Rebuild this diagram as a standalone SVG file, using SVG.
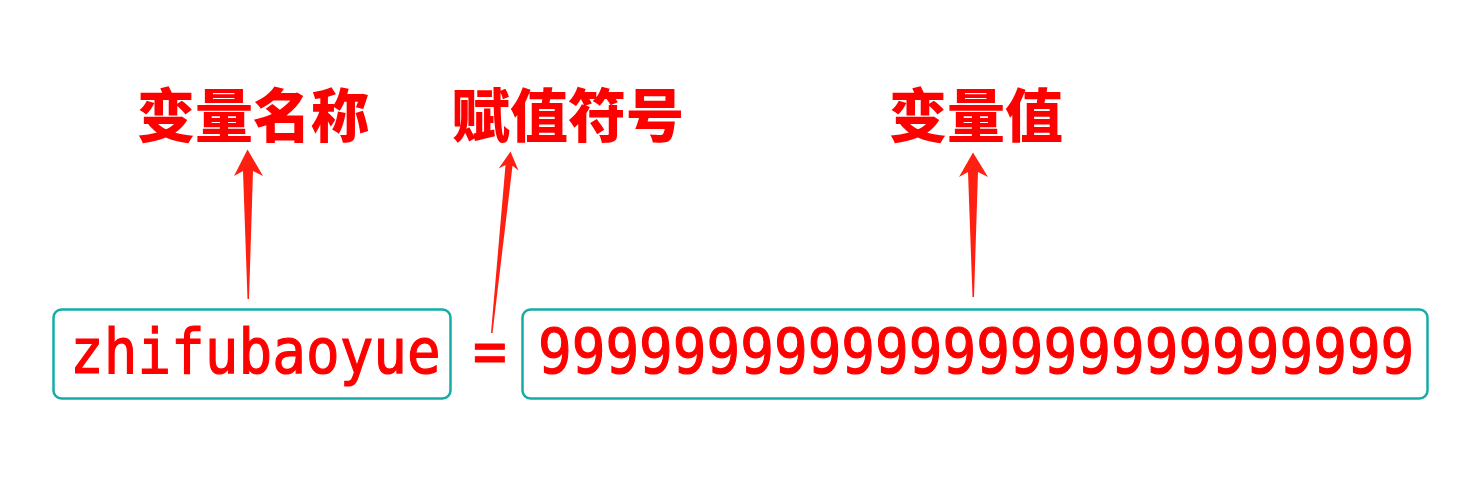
<svg xmlns="http://www.w3.org/2000/svg" width="1480" height="480" viewBox="0 0 1480 480">
<style>
.box{fill:#ffffff;stroke:#15aca8;stroke-width:2.5}
.code{font-family:"DejaVu Sans Mono","Liberation Mono",monospace;font-size:56px;fill:#ff0000;stroke:#ff0000;stroke-width:1.1}
.label{font-family:"Noto Sans CJK SC",sans-serif;font-size:58px;font-weight:900;fill:#ff0000}
.arrow{fill:#ff2012;stroke:none}
</style>
<rect width="1480" height="480" fill="#ffffff"/>
<g id="label-name"><text class="label" x="137" y="137">变量名称</text></g>
<g id="label-assign"><text class="label" x="452" y="137">赋值符号</text></g>
<g id="label-value"><text class="label" x="889" y="137">变量值</text></g>
<g id="node-name">
<rect class="box" x="53.5" y="309.5" width="397" height="89" rx="8"/>
<text class="code" transform="translate(70,373) scale(1,1.12)">zhifubaoyue</text>
</g>
<g id="node-equals">
<text class="code" transform="translate(473,373) scale(1,1.12)">=</text>
</g>
<g id="node-value">
<rect class="box" x="522.5" y="309.5" width="905" height="89" rx="8"/>
<text class="code" transform="translate(538,373) scale(1,1.12)">99999999999999999999999999</text>
</g>
<g id="connectors">
<path class="arrow" d="M247.5,149.5 L263,176 L253,171 L249,299 L247.5,299 L243,171 L234,176 Z"/>
<path class="arrow" d="M510.5,151.5 L518.5,170.4 L512.5,165.8 L492.5,333 L491,333 L505.5,165 L498.7,168.4 Z"/>
<path class="arrow" d="M973,152.5 L988,177 L978,172 L974,297 L972.5,297 L968,172 L959,177 Z"/>
</g>
</svg>
